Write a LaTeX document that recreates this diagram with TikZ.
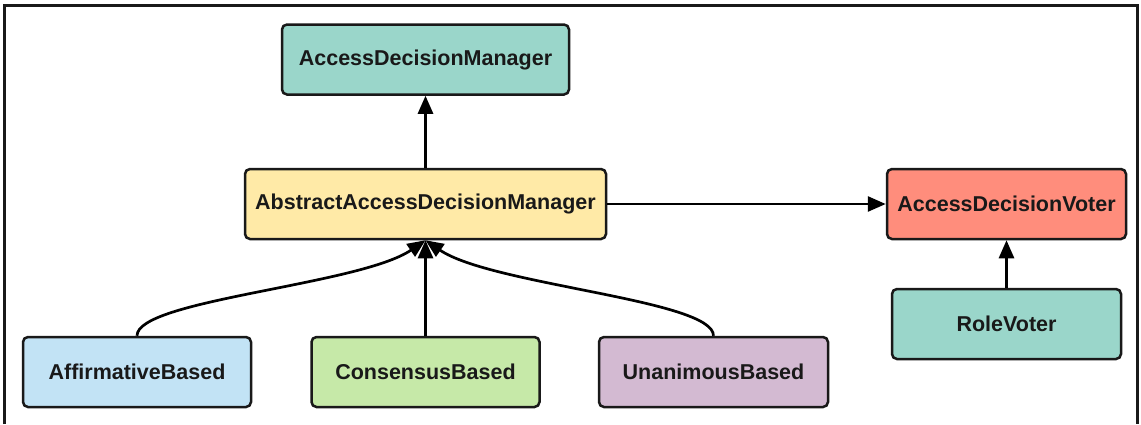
\documentclass[tikz,border=0pt]{standalone}
\usepackage{fontspec}
\setmainfont{Liberation Sans}
\usetikzlibrary{arrows.meta}
\definecolor{cteal}{RGB}{154,214,202}
\definecolor{cyellow}{RGB}{255,234,167}
\definecolor{csalmon}{RGB}{255,141,124}
\definecolor{cblue}{RGB}{194,227,245}
\definecolor{cgreen}{RGB}{198,233,168}
\definecolor{cpurple}{RGB}{211,186,210}
\tikzset{
  cls/.style={draw=black!90, line width=2.5pt, rounded corners=5pt,
    inner sep=0pt, minimum height=70pt,
    font=\fontsize{21.5}{25}\selectfont\bfseries, text=black!90},
  arr/.style={draw=black, line width=2.7pt,
    -{Triangle[length=18pt,width=15pt]}},
}
\begin{document}
\begin{tikzpicture}[x=1pt, y=-1pt]
  \useasboundingbox (0,0) rectangle (1141,424);
  % outer frame, open at the bottom
  \draw[line width=2.5pt, black!90] (4.5,424) -- (4.5,5.5) -- (1137.5,5.5) -- (1137.5,424);

  \node[cls, fill=cteal,   minimum width=287pt] (adm)  at (425.5,59.5) {AccessDecisionManager};
  \node[cls, fill=cyellow, minimum width=361pt] (aadm) at (425.5,204) {AbstractAccessDecisionManager};
  \node[cls, fill=csalmon, minimum width=239pt] (adv)  at (1006.5,204) {AccessDecisionVoter};
  \node[cls, fill=cteal,   minimum width=229pt] (rv)   at (1006.5,324) {RoleVoter};
  \node[cls, fill=cblue,   minimum width=228pt] (aff)  at (137,372) {AffirmativeBased};
  \node[cls, fill=cgreen,  minimum width=228pt] (con)  at (425.5,372) {ConsensusBased};
  \node[cls, fill=cpurple, minimum width=229pt] (una)  at (713.5,372) {UnanimousBased};

  \draw[arr] (aadm.north) -- (adm.south);
  \draw[arr] (aadm.east) -- (adv.west);
  \draw[arr] (rv.north) -- (adv.south);
  \draw[arr] (con.north) -- (aadm.south);
  \draw[arr] (aff.north) .. controls +(0,-36) and +(-66,45) .. (aadm.south);
  \draw[arr] (una.north) .. controls +(0,-36) and +(66,45) .. (aadm.south);
\end{tikzpicture}
\end{document}
